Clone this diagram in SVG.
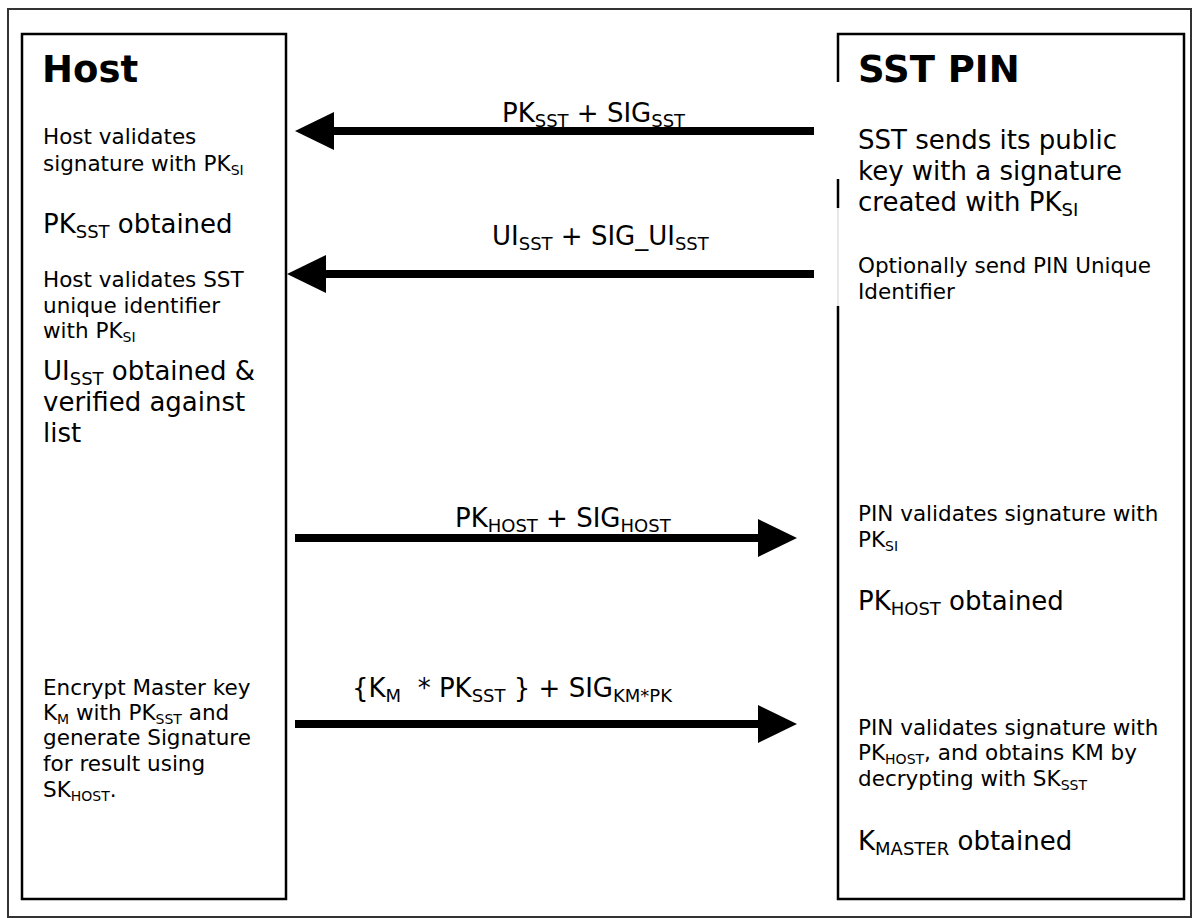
<svg xmlns="http://www.w3.org/2000/svg" width="1199" height="918" viewBox="0 0 1199 918">
  <style>
    text { font-family: "DejaVu Sans", Verdana, sans-serif; fill: #000; }
    .title { font-size: 37px; font-weight: bold; }
    .big { font-size: 26px; }
    .small { font-size: 21.5px; }
    .lbl { font-size: 26px; white-space: pre; }
    .frame { fill: none; stroke: #333; stroke-width: 2; }
    .box { fill: #fff; stroke: #000; stroke-width: 2.5; }
    .edge { stroke: #000; stroke-width: 2.5; }
    .msg { stroke: #000; stroke-width: 8; fill: none; }
  </style>
  <defs>
    <marker id="head" markerUnits="userSpaceOnUse" viewBox="0 0 39 38" markerWidth="39" markerHeight="38" refX="9" refY="19" orient="auto">
      <path d="M0,0 L39,19 L0,38 Z" fill="#000"/>
    </marker>
  </defs>

  <rect class="frame" x="8" y="9" width="1183" height="908"/>

  <!-- Host column -->
  <g id="host">
    <rect class="box" x="22" y="34" width="264" height="865"/>
    <text class="title" x="42" y="82">Host</text>
    <text class="small" x="43" y="144">Host validates</text>
    <text class="small" x="43" y="171">signature with PK<tspan font-size="14" dy="4">SI</tspan></text>
    <text class="big" x="43" y="233">PK<tspan font-size="18" dy="5">SST</tspan><tspan dy="-5"> obtained</tspan></text>
    <text class="small" x="43" y="287">Host validates SST</text>
    <text class="small" x="43" y="313">unique identifier</text>
    <text class="small" x="43" y="338">with PK<tspan font-size="14" dy="4">SI</tspan></text>
    <text class="big" x="43" y="380">UI<tspan font-size="18" dy="5">SST</tspan><tspan dy="-5"> obtained &amp;</tspan></text>
    <text class="big" x="43" y="411">verified against</text>
    <text class="big" x="43" y="442">list</text>
    <text class="small" x="43" y="695">Encrypt Master key</text>
    <text class="small" x="43" y="720">K<tspan font-size="14" dy="4">M</tspan><tspan dy="-4"> with PK</tspan><tspan font-size="14" dy="4">SST</tspan><tspan dy="-4"> and</tspan></text>
    <text class="small" x="43" y="745">generate Signature</text>
    <text class="small" x="43" y="771">for result using</text>
    <text class="small" x="43" y="797">SK<tspan font-size="14" dy="4">HOST</tspan><tspan dy="-4">.</tspan></text>
  </g>

  <!-- SST PIN column -->
  <g id="sst-pin">
    <rect x="838" y="34" width="346" height="865" fill="#fff"/>
    <path class="edge" d="M838,82 V34 H1184 V899 H838 V306" fill="none"/>
    <path class="edge" d="M838,179 V208"/>
    <path d="M838,208 V306" stroke="#e0e0e0" stroke-width="1.5"/>
    <text class="title" x="858" y="82">SST PIN</text>
    <text class="big" x="858" y="149">SST sends its public</text>
    <text class="big" x="858" y="180">key with a signature</text>
    <text class="big" x="858" y="211">created with PK<tspan font-size="18" dy="5">SI</tspan></text>
    <text class="small" x="858" y="273">Optionally send PIN Unique</text>
    <text class="small" x="858" y="299">Identifier</text>
    <text class="small" x="858" y="521">PIN validates signature with</text>
    <text class="small" x="858" y="547">PK<tspan font-size="14" dy="4">SI</tspan></text>
    <text class="big" x="858" y="610">PK<tspan font-size="18" dy="5">HOST</tspan><tspan dy="-5"> obtained</tspan></text>
    <text class="small" x="858" y="735">PIN validates signature with</text>
    <text class="small" x="858" y="760">PK<tspan font-size="14" dy="4">HOST</tspan><tspan dy="-4">, and obtains KM by</tspan></text>
    <text class="small" x="858" y="786">decrypting with SK<tspan font-size="14" dy="4">SST</tspan></text>
    <text class="big" x="858" y="850">K<tspan font-size="18" dy="5">MASTER</tspan><tspan dy="-5"> obtained</tspan></text>
  </g>

  <!-- Messages between Host and SST PIN -->
  <g id="connectors">
    <path class="msg" d="M814,131 H325" marker-end="url(#head)"/>
    <text class="lbl" x="502" y="122">PK<tspan font-size="18" dy="5">SST</tspan><tspan dy="-5"> + SIG</tspan><tspan font-size="18" dy="5">SST</tspan></text>

    <path class="msg" d="M814,274 H317" marker-end="url(#head)"/>
    <text class="lbl" x="492" y="245">UI<tspan font-size="18" dy="5">SST</tspan><tspan dy="-5"> + SIG_UI</tspan><tspan font-size="18" dy="5">SST</tspan></text>

    <path class="msg" d="M295,538 H767" marker-end="url(#head)"/>
    <text class="lbl" x="455" y="527">PK<tspan font-size="18" dy="5">HOST</tspan><tspan dy="-5"> + SIG</tspan><tspan font-size="18" dy="5">HOST</tspan></text>

    <path class="msg" d="M295,724 H767" marker-end="url(#head)"/>
    <text class="lbl" x="352" y="697">{K<tspan font-size="18" dy="5">M</tspan><tspan dy="-5">  * PK</tspan><tspan font-size="18" dy="5">SST</tspan><tspan dy="-5"> } + SIG</tspan><tspan font-size="18" dy="5">KM*PK</tspan></text>
  </g>
</svg>
